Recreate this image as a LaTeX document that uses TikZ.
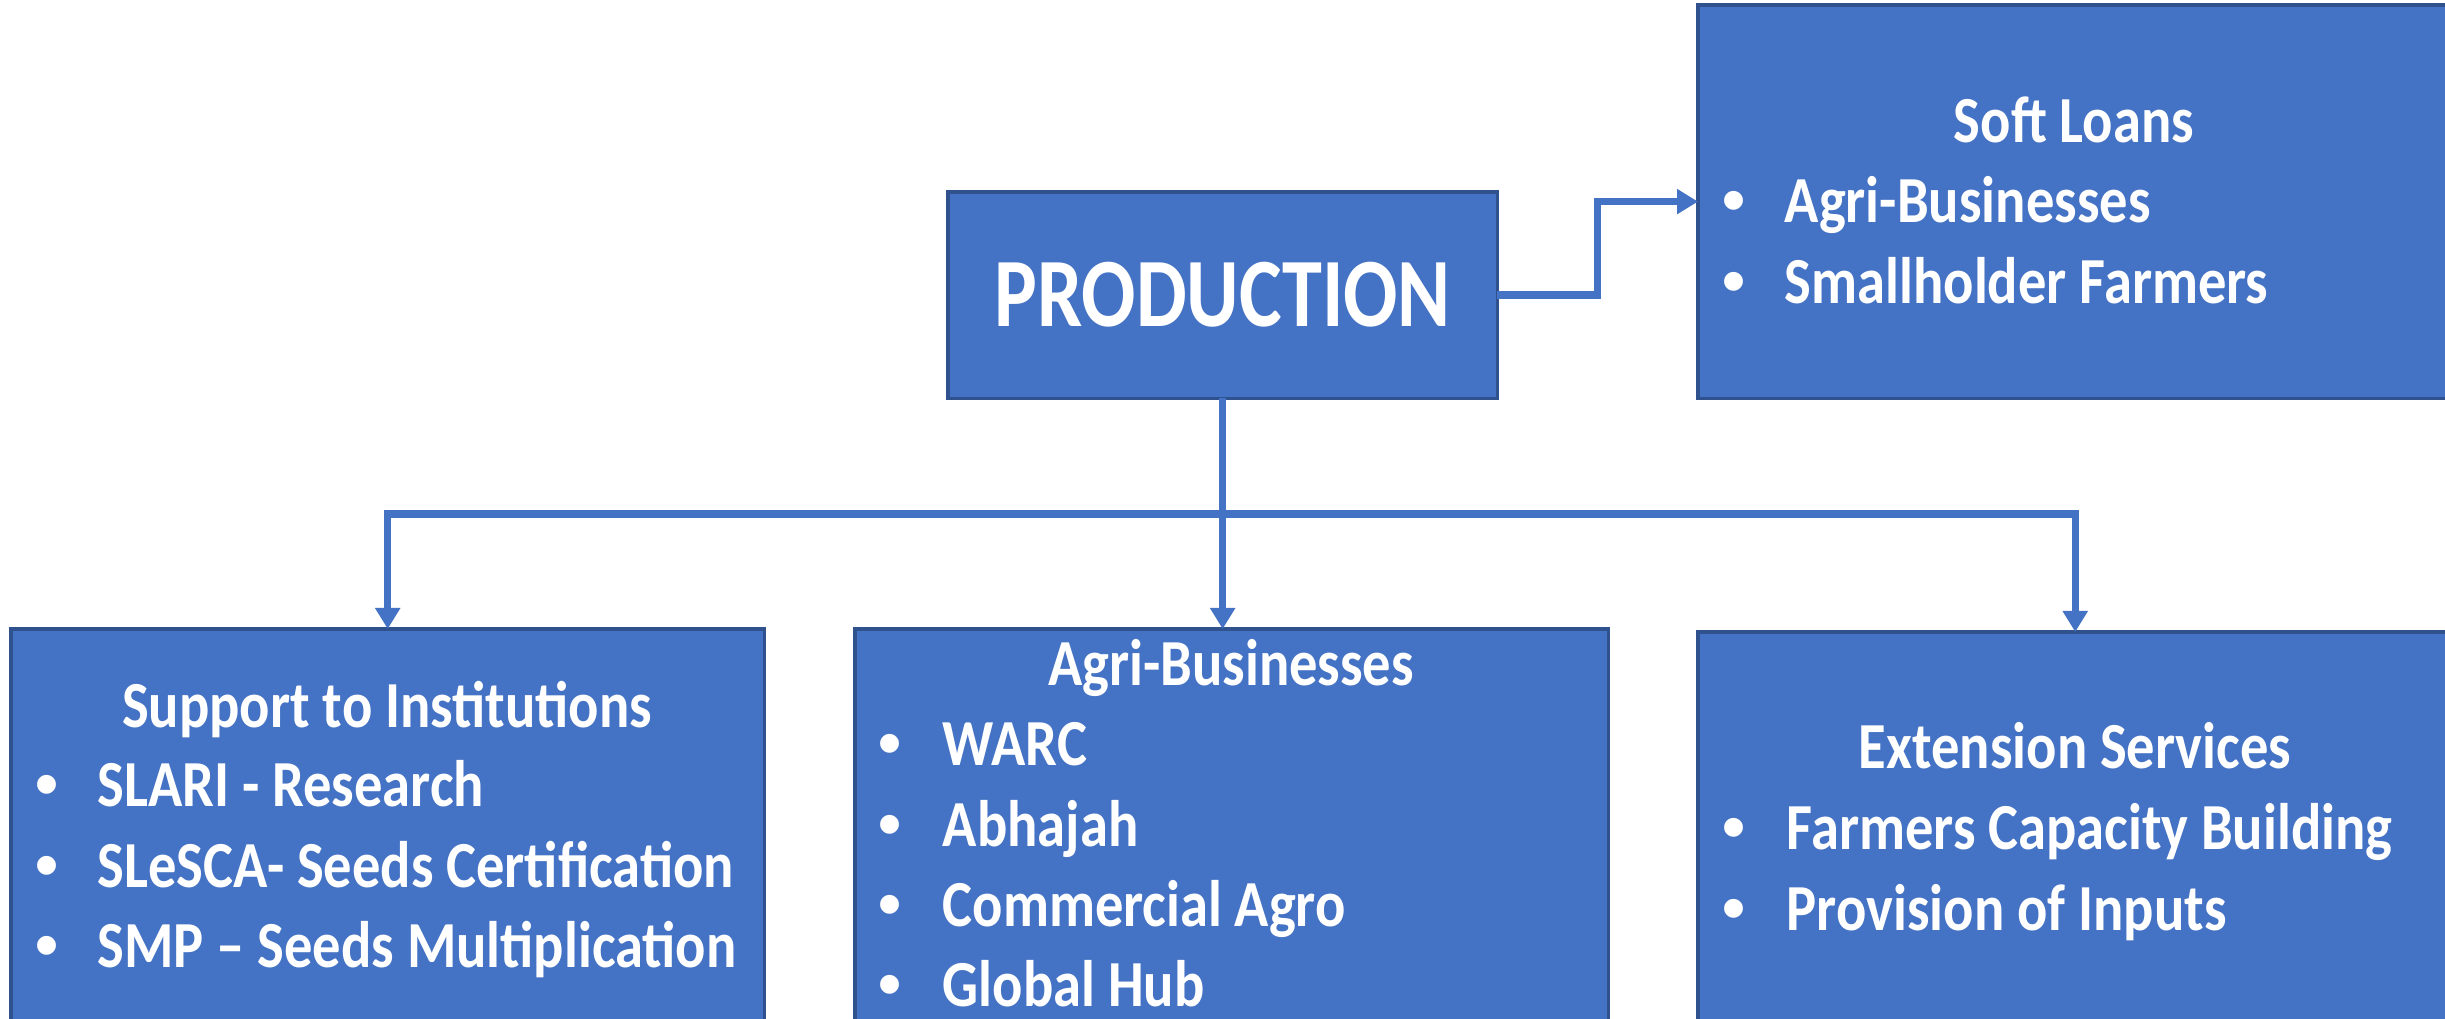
\documentclass[tikz,border=0pt]{standalone}
\usepackage{fontspec}
\setmainfont{Carlito}[FakeStretch=0.86]
\newfontfamily\prodfont{Carlito}[FakeStretch=0.82]
\newfontfamily\bulletfont{Liberation Sans}
\usetikzlibrary{arrows.meta,positioning}
\definecolor{boxfill}{HTML}{4472C4}
\definecolor{boxline}{HTML}{2F528F}
\definecolor{linkblue}{HTML}{4472C4}
\newcommand{\itembullet}[1]{\makebox[#1][l]{\hspace{-0.03cm}{\bulletfont\textbullet}}}

\begin{document}
\begin{tikzpicture}[
	x=0.01cm, y=-0.01cm,
	bluebox/.style={rectangle, draw=boxline, fill=boxfill, line width=0.9pt, anchor=north west, inner sep=0pt, outer sep=0pt, minimum width=7.53cm, minimum height=4.3cm},
	boxtitle/.style={anchor=base, text=white, inner sep=0pt, font=\bfseries\fontsize{18.7}{22.8}\selectfont},
	boxitems/.style={anchor=base west, text=white, inner sep=0pt, font=\bfseries\fontsize{18.7}{22.8}\selectfont},
	link/.style={draw=linkblue, line width=2.1pt, -{Triangle[length=0.21cm, width=0.24cm]}},
	]
	\useasboundingbox (0,0) rectangle (2445,1019);
	
	%Boxes
	\node[bluebox, minimum width=5.49cm, minimum height=2.06cm, text=white, font=\prodfont\bfseries\fontsize{27.9}{33}\selectfont] (prod) at (948,192) {PRODUCTION};
	\node[bluebox, minimum width=7.54cm, minimum height=3.93cm] (soft) at (1698,5) {};
	\node[bluebox] (support) at (11,629) {};
	\node[bluebox] (agri) at (855,629) {};
	\node[bluebox, minimum width=7.54cm] (ext) at (1698,632) {};
	
	%Texts
	\node[boxtitle] (softtitle) at (2074,143) {Soft Loans};
	\node[boxitems] (softitems) at (1725,223) {\begin{tabular}[t]{@{}l@{}l@{}}
		\itembullet{0.59cm} & Agri-Businesses\\
		\itembullet{0.59cm} & Smallholder Farmers
	\end{tabular}};
	\node[boxtitle] (supporttitle) at (387,728) {Support to Institutions};
	\node[boxitems] (supportitems) at (38,807) {\begin{tabular}[t]{@{}l@{}l@{}}
		\itembullet{0.59cm} & SLARI - Research\\
		\itembullet{0.59cm} & SLeSCA- Seeds Certification\\
		\itembullet{0.59cm} & SMP – Seeds Multiplication
	\end{tabular}};
	\node[boxtitle] (agrititle) at (1231,686) {Agri-Businesses};
	\node[boxitems] (agriitems) at (881,766) {\begin{tabular}[t]{@{}l@{}l@{}}
		\itembullet{0.61cm} & WARC\\
		\itembullet{0.61cm} & Abhajah\\
		\itembullet{0.61cm} & Commercial Agro\\
		\itembullet{0.61cm} & Global Hub
	\end{tabular}};
	\node[boxtitle] (exttitle) at (2075,768) {Extension Services};
	\node[boxitems] (extitems) at (1725,850) {\begin{tabular}[t]{@{}l@{}l@{}}
		\itembullet{0.61cm} & Farmers Capacity Building\\
		\itembullet{0.61cm} & Provision of Inputs
	\end{tabular}};
	
	%Lines
	\coordinate (split) at (1221,514);
	\draw[link] (prod.east) -- ++(100,0) |- (soft.west);
	\draw[link] (prod.south) -- (prod.south |- agri.north);
	\draw[link] (split) -| (support.north);
	\draw[link] (split) -| (ext.north);
	
\end{tikzpicture}
\end{document}
